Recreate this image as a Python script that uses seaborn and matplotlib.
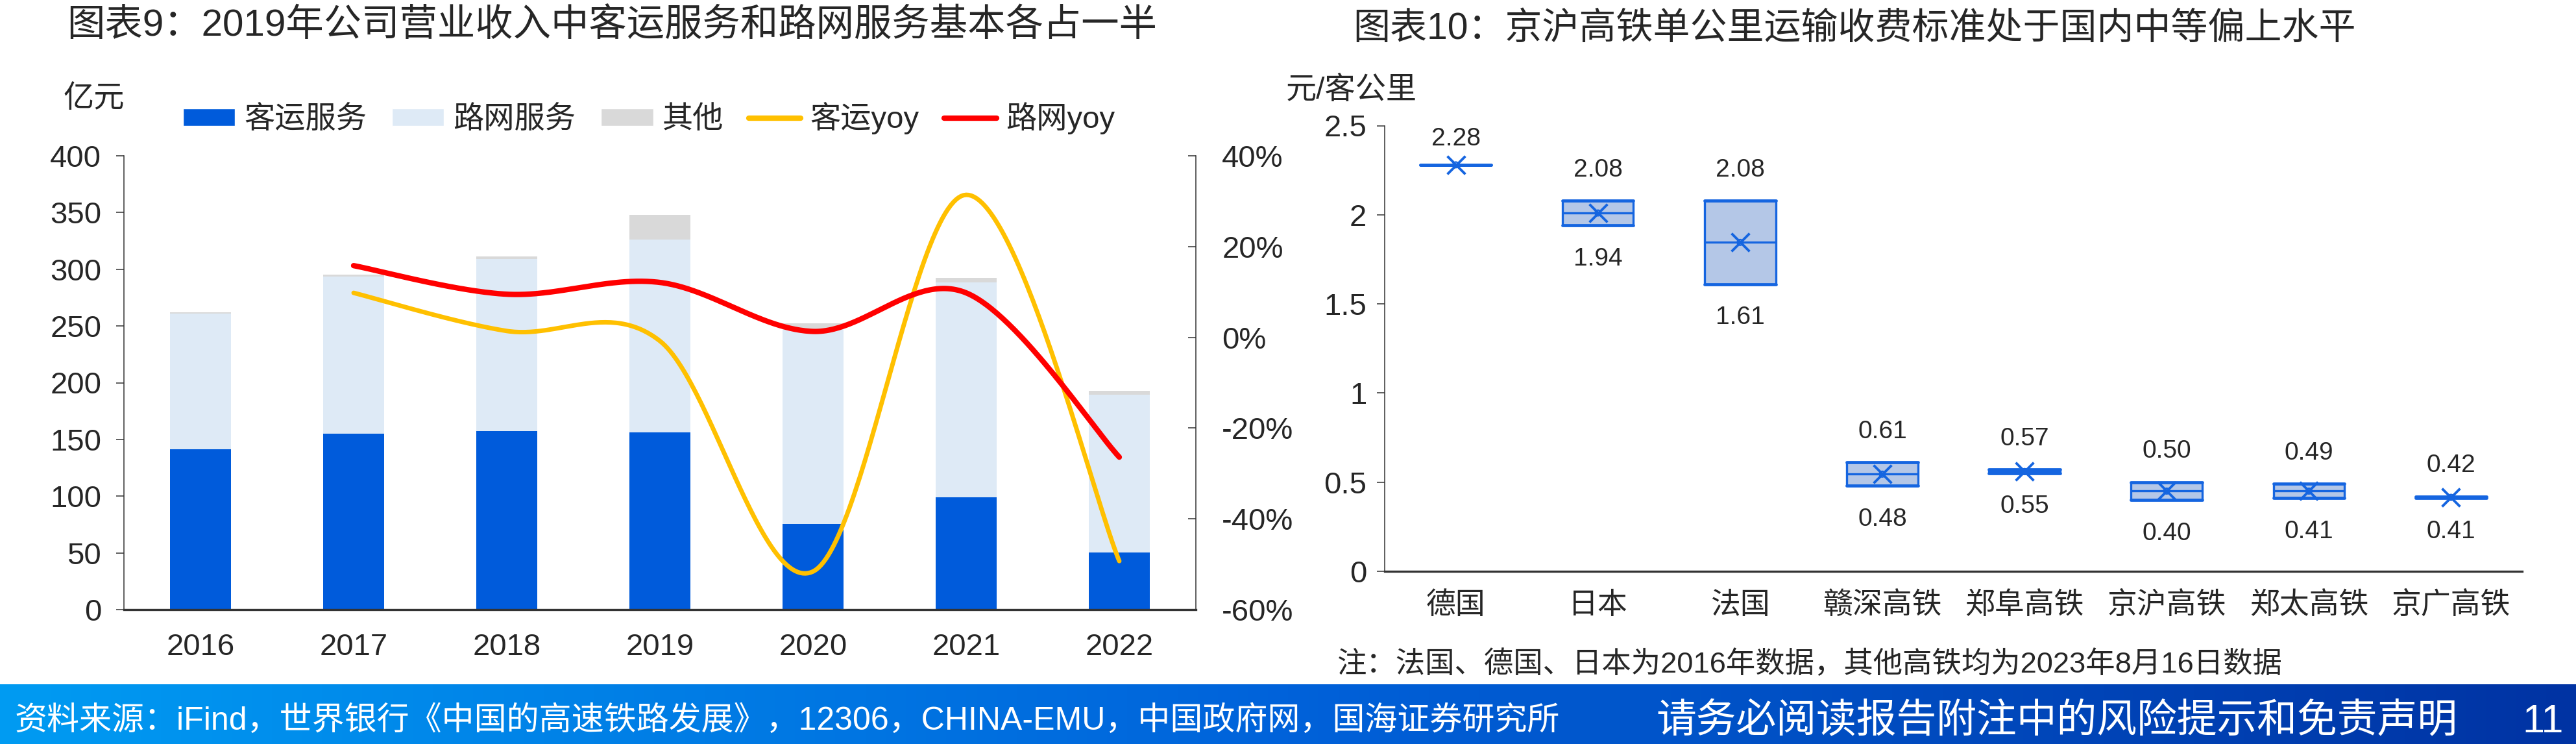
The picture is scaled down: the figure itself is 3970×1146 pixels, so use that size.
import numpy as np
import pandas as pd
import matplotlib
matplotlib.use("Agg")
import matplotlib.pyplot as plt
import seaborn as sns
from matplotlib.patches import Patch
from matplotlib.lines import Line2D
from matplotlib.colors import LinearSegmentedColormap

# ---------------- data ----------------
years = ["2016", "2017", "2018", "2019", "2020", "2021", "2022"]
passenger = [141.3, 155.2, 157.3, 156.0, 75.5, 99.2, 50.3]      # 客运服务 (亿元)
network = [119.6, 138.4, 151.6, 170.2, 172.2, 189.1, 139.2]     # 路网服务 (亿元)
other = [1.1, 1.6, 2.3, 21.9, 4.6, 4.4, 3.1]                    # 其他 (亿元)
passenger_yoy = [np.nan, 9.8, 1.4, -0.8, -51.6, 31.4, -49.3]     # 客运yoy (%)
network_yoy = [np.nan, 15.8, 9.5, 12.1, 1.3, 9.8, -26.4]         # 路网yoy (%)

routes = ["德国", "日本", "法国", "赣深高铁", "郑阜高铁", "京沪高铁", "郑太高铁", "京广高铁"]
fare_max = [2.28, 2.08, 2.08, 0.61, 0.57, 0.50, 0.49, 0.42]
fare_min = [2.28, 1.94, 1.61, 0.48, 0.55, 0.40, 0.41, 0.41]
fare_mid = [2.28, 2.01, 1.845, 0.545, 0.56, 0.45, 0.45, 0.415]

left_ticks = [0, 50, 100, 150, 200, 250, 300, 350, 400]
right_ticks = [-60, -40, -20, 0, 20, 40]
fare_ticks = [0, 0.5, 1, 1.5, 2, 2.5]

# ---------------- style ----------------
sns.set_theme(style="white")
plt.rcParams["font.family"] = ["Liberation Sans", "Noto Sans CJK SC"]
plt.rcParams["axes.unicode_minus"] = False

W, H = 3970, 1146
fig = plt.figure(figsize=(W / 100, H / 100), dpi=100)

BLUE = "#005BDB"
LIGHT = "#DEEAF6"
GREY = "#D9D9D9"
YELLOW = "#FFC000"
RED = "#FF0000"
BOXBLUE = "#1565E0"
BOXFILL = "#B4C7E7"
AXC = "#333333"
TICK_FS = 34


def smooth(xs, ys, n=60):
    """Excel-like smoothed line (Catmull-Rom bezier through the data points)."""
    xs = np.asarray(xs, float)
    ys = np.asarray(ys, float)
    px, py = [], []
    m = len(xs)
    for i in range(m - 1):
        x0, y0 = (xs[i - 1], ys[i - 1]) if i > 0 else (xs[i], ys[i])
        x1, y1 = xs[i], ys[i]
        x2, y2 = xs[i + 1], ys[i + 1]
        x3, y3 = (xs[i + 2], ys[i + 2]) if i + 2 < m else (xs[i + 1], ys[i + 1])
        c1x, c1y = x1 + (x2 - x0) / 6, y1 + (y2 - y0) / 6
        c2x, c2y = x2 - (x3 - x1) / 6, y2 - (y3 - y1) / 6
        t = np.linspace(0, 1, n)
        bx = (1 - t) ** 3 * x1 + 3 * (1 - t) ** 2 * t * c1x + 3 * (1 - t) * t ** 2 * c2x + t ** 3 * x2
        by = (1 - t) ** 3 * y1 + 3 * (1 - t) ** 2 * t * c1y + 3 * (1 - t) * t ** 2 * c2y + t ** 3 * y2
        if i > 0:
            bx, by = bx[1:], by[1:]
        px.append(bx)
        py.append(by)
    return np.concatenate(px), np.concatenate(py)


# ---------------- left chart ----------------
ax = fig.add_axes([191 / W, 1 - 939 / H, (1843 - 191) / W, (939 - 240) / H])
df = pd.DataFrame({"year": years, "passenger": passenger, "network": network, "other": other})
df["total"] = df["passenger"] + df["network"] + df["other"]
df["pn"] = df["passenger"] + df["network"]

for col, c in [("total", GREY), ("pn", LIGHT), ("passenger", BLUE)]:
    sns.barplot(data=df, x="year", y=col, color=c, width=0.4, saturation=1,
                errorbar=None, linewidth=0, ax=ax)

ax.set_xlim(-0.5, 6.5)
ax.set_ylim(0, 400)
ax.set_yticks(left_ticks)
ax.set_yticklabels([str(v) for v in left_ticks])
ax.set_xticks(range(len(years)))
ax.set_xticklabels(years)
ax.set_xticks(np.arange(-0.5, len(years)), minor=True)
ax.set_xlabel("")
ax.set_ylabel("")
ax.tick_params(axis="x", which="both", direction="in", length=9.5, width=1.1,
               color=AXC, labelsize=TICK_FS, pad=26)
ax.tick_params(axis="y", direction="out", length=9, width=1.1, color=AXC,
               labelsize=TICK_FS, pad=16, left=True)
for s in ["top", "right"]:
    ax.spines[s].set_visible(False)
ax.spines["left"].set_color(AXC)
ax.spines["left"].set_linewidth(1.1)
ax.spines["bottom"].set_color(AXC)
ax.spines["bottom"].set_linewidth(2.4)

ax2 = ax.twinx()
xp = np.arange(1, len(years))
for vals, c, lw in [(passenger_yoy, YELLOW, 5.0), (network_yoy, RED, 6.0)]:
    sx, sy = smooth(xp, np.asarray(vals)[1:])
    ax2.plot(sx, sy, color=c, lw=lw, solid_capstyle="round")
ax2.set_ylim(-60, 40)
ax2.set_yticks(right_ticks)
ax2.set_yticklabels([f"{v}%" for v in right_ticks])
ax2.set_xlim(-0.5, 6.5)
ax2.tick_params(axis="y", direction="in", length=9, width=1.1, color=AXC,
                labelsize=TICK_FS, pad=29, right=True)
for s in ["top", "left", "bottom"]:
    ax2.spines[s].set_visible(False)
ax2.spines["right"].set_color(AXC)
ax2.spines["right"].set_linewidth(1.1)
ax2.set_ylabel("")

handles = [Patch(facecolor=BLUE), Patch(facecolor=LIGHT), Patch(facecolor=GREY),
           Line2D([], [], color=YELLOW, lw=6), Line2D([], [], color=RED, lw=6)]
labels = ["客运服务", "路网服务", "其他", "客运yoy", "路网yoy"]
fig.legend(handles, labels, loc="center left", bbox_to_anchor=(282 / W, 1 - 182 / H),
           ncol=5, frameon=False, fontsize=TICK_FS, handlelength=1.7, handleheight=0.5,
           handletextpad=0.3, columnspacing=0.82, borderpad=0, borderaxespad=0)

fig.text(103 / W, 1 - 40 / H, "图表9：2019年公司营业收入中客运服务和路网服务基本各占一半",
         fontsize=42, va="center", ha="left")
fig.text(145 / W, 1 - 153 / H, "亿元", fontsize=TICK_FS, va="center", ha="center")

# ---------------- right chart ----------------
ax3 = fig.add_axes([2134 / W, 1 - 880 / H, (3887 - 2134) / W, (880 - 193.5) / H])
pos = np.arange(len(routes))
stats = [dict(med=m, q1=lo, q3=hi, whislo=lo, whishi=hi, fliers=[], label=r)
         for r, lo, hi, m in zip(routes, fare_min, fare_max, fare_mid)]
ax3.bxp(stats, positions=pos, widths=0.5, patch_artist=True, showmeans=False,
        showcaps=True, capwidths=0.5, manage_ticks=False,
        boxprops=dict(facecolor=BOXFILL, edgecolor=BOXBLUE, linewidth=2.4),
        medianprops=dict(color=BOXBLUE, linewidth=2.4),
        whiskerprops=dict(color=BOXBLUE, linewidth=2.4),
        capprops=dict(color=BOXBLUE, linewidth=3.4))
sns.scatterplot(x=pos, y=fare_mid, marker="x", s=400, color=BOXBLUE, linewidth=2.8,
                ax=ax3, zorder=5, legend=False)
sns.scatterplot(x=pos, y=fare_mid, marker="o", s=40, facecolor="none", edgecolor=BOXBLUE,
                linewidth=1.6, ax=ax3, zorder=6, legend=False)

for i, (lo, hi) in enumerate(zip(fare_min, fare_max)):
    ax3.annotate(f"{hi:.2f}", (i, hi), xytext=(0, 34 if lo != hi else 29),
                 textcoords="offset points", ha="center", va="center", fontsize=28)
    if lo != hi:
        ax3.annotate(f"{lo:.2f}", (i, lo), xytext=(0, -37), textcoords="offset points",
                     ha="center", va="center", fontsize=28)

ax3.set_xlim(-0.5, len(routes) - 0.5)
ax3.set_ylim(0, 2.5)
ax3.set_yticks(fare_ticks)
ax3.set_yticklabels([f"{v:g}" for v in fare_ticks])
ax3.set_xticks(pos)
ax3.set_xticklabels(routes)
ax3.set_xticks(np.arange(-0.5, len(routes)), minor=True)
ax3.tick_params(axis="x", which="major", length=0, labelsize=33, pad=22)
ax3.tick_params(axis="x", which="minor", direction="out", length=9, width=1.1, color=AXC)
ax3.tick_params(axis="y", direction="out", length=9, width=1.1, color=AXC,
                labelsize=TICK_FS, pad=11, left=True)
ax3.set_xlabel("")
ax3.set_ylabel("")
for s in ["top", "right"]:
    ax3.spines[s].set_visible(False)
ax3.spines["left"].set_color(AXC)
ax3.spines["left"].set_linewidth(1.1)
ax3.spines["bottom"].set_color(AXC)
ax3.spines["bottom"].set_linewidth(2.4)

fig.text(2085 / W, 1 - 45 / H, "图表10：京沪高铁单公里运输收费标准处于国内中等偏上水平",
         fontsize=41, va="center", ha="left")
fig.text(1982 / W, 1 - 140 / H, "元/客公里", fontsize=TICK_FS, va="center", ha="left")
fig.text(2060 / W, 1 - 1023 / H, "注：法国、德国、日本为2016年数据，其他高铁均为2023年8月16日数据",
         fontsize=32.7, va="center", ha="left")

# ---------------- footer band ----------------
fax = fig.add_axes([0, 0, 1, 92 / H])
cmap = LinearSegmentedColormap.from_list("band", ["#009BF2", "#0062DA", "#0033A3"])
fax.imshow(np.linspace(0, 1, 512)[None, :], cmap=cmap, aspect="auto", extent=(0, 1, 0, 1))
fax.set_axis_off()
fig.text(23 / W, 1 - 1110 / H,
         "资料来源：iFind，世界银行《中国的高速铁路发展》，12306，CHINA-EMU，中国政府网，国海证券研究所",
         fontsize=36, color="white", va="center", ha="left")
fig.text(2552 / W, 1 - 1112 / H, "请务必阅读报告附注中的风险提示和免责声明",
         fontsize=44.5, color="white", va="center", ha="left")
fig.text(3887 / W, 1 - 1112 / H, "11", fontsize=44, color="white", va="center", ha="left")

fig.savefig("out.png", dpi=100)
